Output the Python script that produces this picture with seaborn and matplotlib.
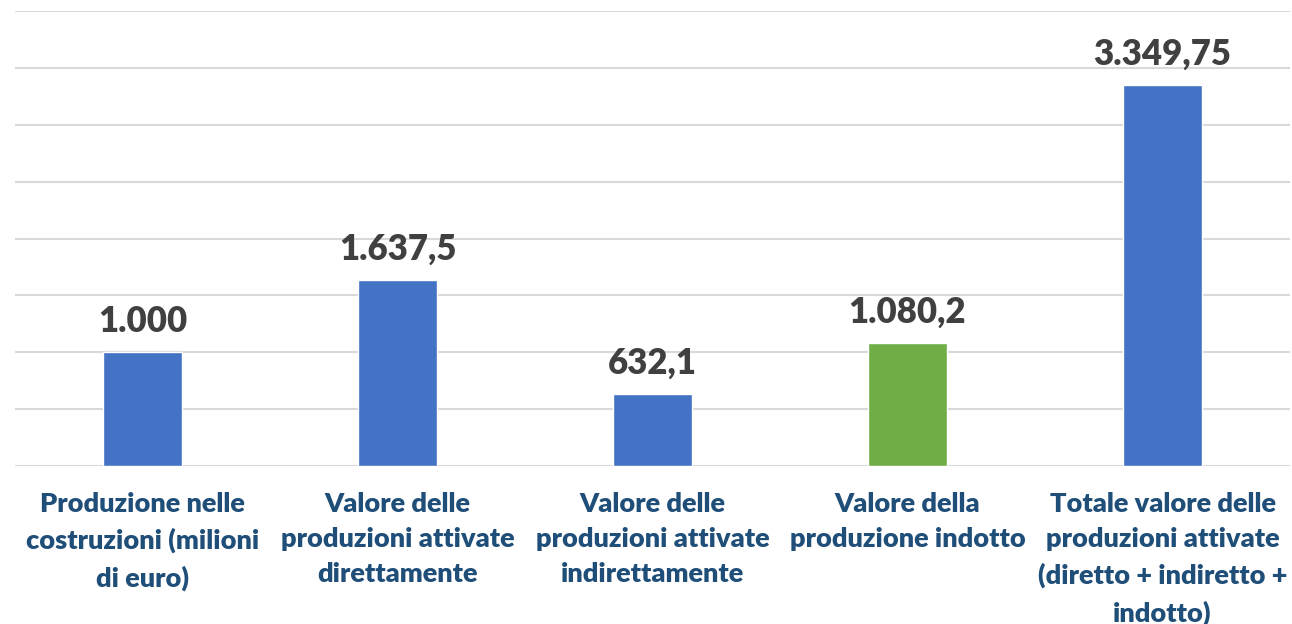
import seaborn as sns
import matplotlib.pyplot as plt

# Dati
categorie = ['Produzione nelle\ncostruzioni (milioni\ndi euro)',
             'Valore delle\nproduzioni attivate\ndirettamente',
             'Valore delle\nproduzioni attivate\nindirettamente',
             'Valore della\nproduzione indotto',
             'Totale valore delle\nproduzioni attivate\n(diretto + indiretto +\nindotto)']
valori = [1000, 1637.5, 632.1, 1080.2, 3349.75]
etichette = ['1.000', '1.637,5', '632,1', '1.080,2', '3.349,75']
colori = ['#4472C4', '#4472C4', '#4472C4', '#70AD47', '#4472C4']

sns.set_style('white')
plt.rcParams['font.family'] = ['Lato', 'DejaVu Sans']

fig = plt.figure(figsize=(12.92, 6.24), dpi=100)
ax = fig.add_axes([15/1292, 158/624, 1275/1292, 455/624])

sns.barplot(x=categorie, y=valori, hue=categorie, palette=colori,
            legend=False, width=0.31, saturation=1, ax=ax)

for i, cont in enumerate(ax.containers):
    ax.bar_label(cont, labels=[etichette[i]], padding=10, fontsize=25,
                 fontweight='heavy', color='#404040')

ax.set_ylim(0, 4000)
ax.set_xlim(-0.5, 4.5)
ax.set_yticks(range(0, 4001, 500))
ax.set_yticklabels([])
ax.yaxis.grid(True, color='#D9D9D9', linewidth=1.5)
ax.set_axisbelow(True)
ax.tick_params(axis='x', length=0, pad=19)
ax.tick_params(axis='y', length=0)
for lab in ax.get_xticklabels():
    lab.set_fontsize(19.5)
    lab.set_fontweight('heavy')
    lab.set_color('#1F4E79')
    lab.set_linespacing(1.55)
for s in ax.spines.values():
    s.set_visible(False)

plt.savefig('out.png', dpi=100)
